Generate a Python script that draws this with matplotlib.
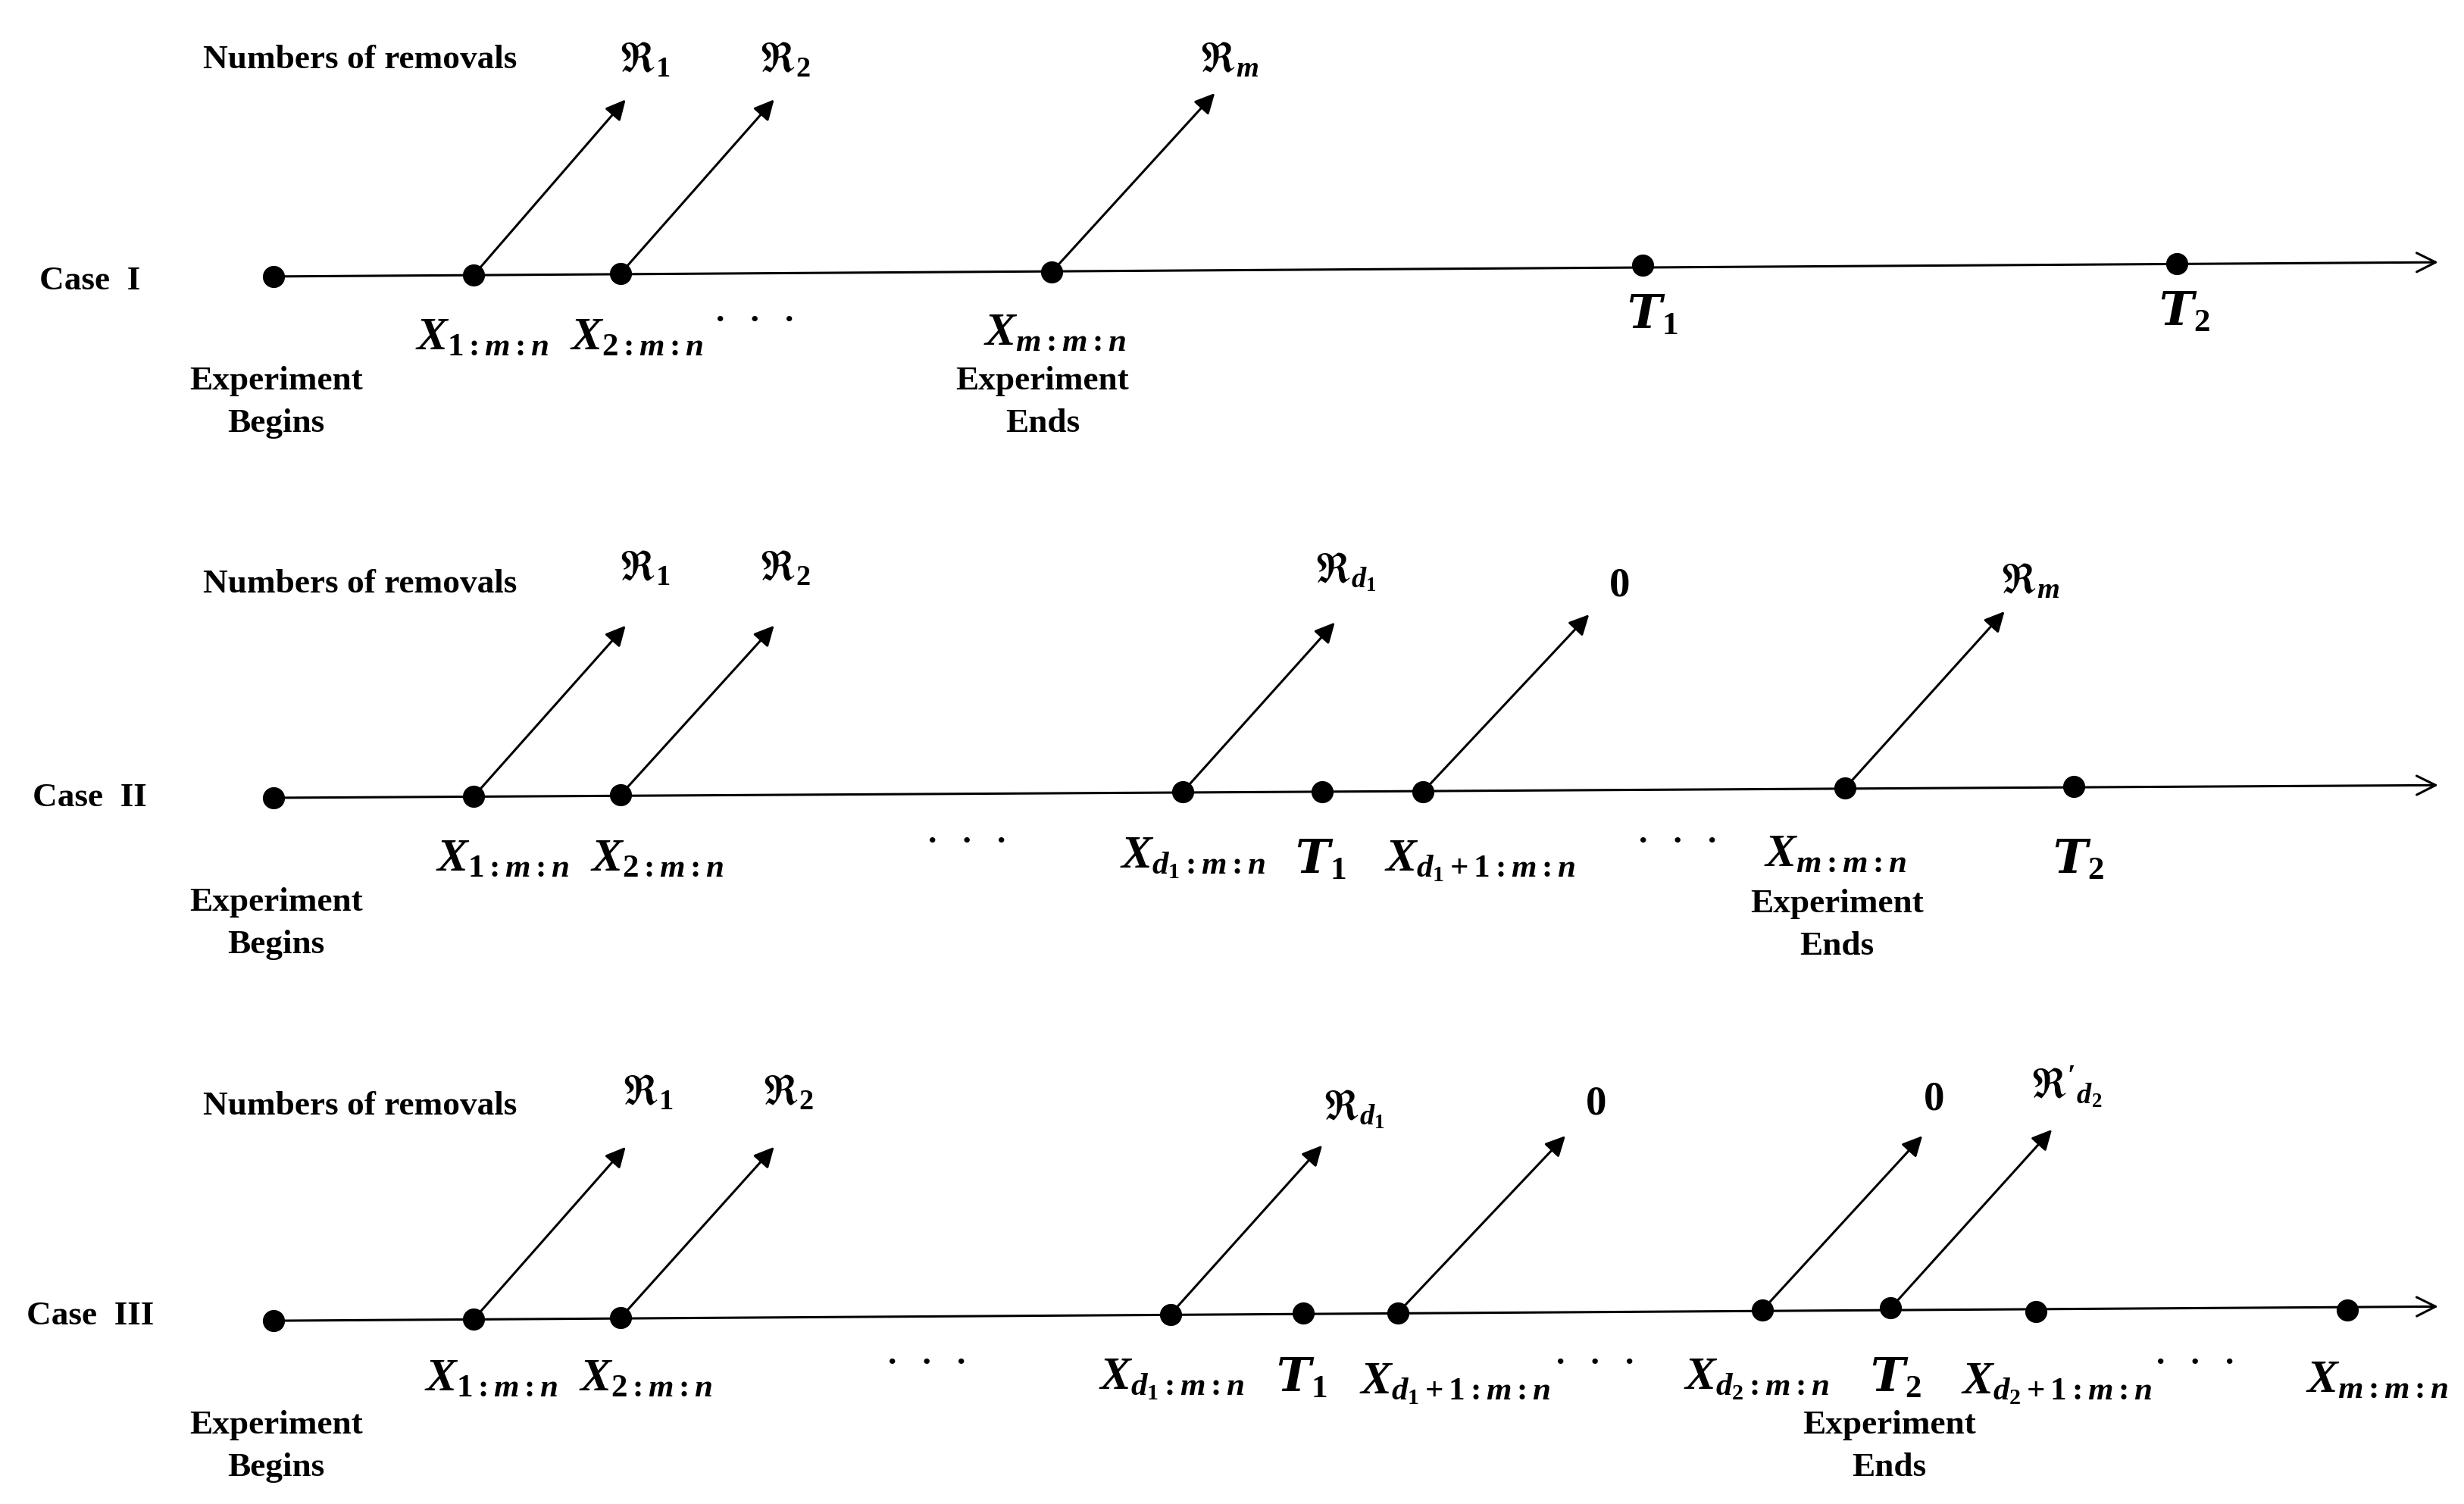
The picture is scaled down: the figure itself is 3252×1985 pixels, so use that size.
import matplotlib
matplotlib.use("Agg")
import matplotlib.pyplot as plt

plt.rcParams['mathtext.fontset'] = 'custom'
plt.rcParams['mathtext.it'] = 'Liberation Serif:bold:italic'
plt.rcParams['mathtext.rm'] = 'Liberation Serif:bold'
plt.rcParams['mathtext.bf'] = 'Liberation Serif:bold'
plt.rcParams['mathtext.cal'] = 'DejaVu Serif:bold:italic'
plt.rcParams['mathtext.fallback'] = 'stix'

S = 1.5 * 1.55  # font pt per reference pixel

# ---- data (reference pixel coordinates of displayed image) ----
case_names = ["Case  I", "Case  II", "Case  III"]
case_label_y = [178, 505, 833]
line_start = [(173, 175), (173, 505), (173, 836)]
line_end = [(1545, 166), (1545, 497), (1545, 827)]
points = [
    [(173, 175), (300, 174), (393, 173), (666, 172), (1040, 168), (1378, 167)],
    [(173, 505), (300, 504), (393, 503), (749, 501), (837, 501), (901, 501), (1168, 499), (1313, 498)],
    [(173, 836), (300, 835), (393, 834), (741, 832), (825, 831), (885, 831), (1116, 829), (1197, 828), (1289, 830), (1486, 829)],
]
arrows = [
    [((300, 174), (397, 62)), ((393, 173), (491, 62)), ((666, 172), (770, 58))],
    [((300, 504), (397, 395)), ((393, 503), (491, 395)), ((749, 501), (846, 393)), ((901, 501), (1007, 388)), ((1168, 499), (1270, 386))],
    [((300, 835), (397, 725)), ((393, 834), (491, 725)), ((741, 832), (838, 724)), ((885, 831), (992, 718)), ((1116, 829), (1218, 718)), ((1197, 828), (1300, 714))],
]
removal_labels = [
    [(408, 38, r'$\Re_1$'), (497, 38, r'$\Re_2$'), (778, 38, r'$\Re_m$')],
    [(408, 360, r'$\Re_1$'), (497, 360, r'$\Re_2$'), (852, 362, r'$\Re_{d_1}$'), (1025, 370, r'$0$'), (1285, 368, r'$\Re_m$')],
    [(410, 692, r'$\Re_1$'), (499, 692, r'$\Re_2$'), (857, 702, r'$\Re_{d_1}$'), (1010, 698, r'$0$'), (1224, 695, r'$0$'), (1308, 688, r"$\Re'_{d_2}$")],
]
header_y = [38, 370, 700]
time_labels = [
    [(305, 213, r'$X_{1:m:n}$'), (403, 213, r'$X_{2:m:n}$'), (668, 210, r'$X_{m:m:n}$'),
     (1046, 200, r'$\mathcal{T}_1$'), (1383, 198, r'$\mathcal{T}_2$')],
    [(318, 543, r'$X_{1:m:n}$'), (416, 543, r'$X_{2:m:n}$'), (755, 543, r'$X_{d_1:m:n}$'),
     (836, 545, r'$\mathcal{T}_1$'), (937, 545, r'$X_{d_1+1:m:n}$'), (1162, 540, r'$X_{m:m:n}$'),
     (1316, 545, r'$\mathcal{T}_2$')],
    [(311, 872, r'$X_{1:m:n}$'), (409, 872, r'$X_{2:m:n}$'), (742, 873, r'$X_{d_1:m:n}$'),
     (824, 873, r'$\mathcal{T}_1$'), (921, 876, r'$X_{d_1+1:m:n}$'), (1112, 873, r'$X_{d_2:m:n}$'),
     (1200, 873, r'$\mathcal{T}_2$'), (1302, 876, r'$X_{d_2+1:m:n}$'), (1505, 873, r'$X_{m:m:n}$')],
]
dots_pos = [[(478, 198)], [(612, 528), (1062, 528)], [(587, 858), (1010, 858), (1390, 858)]]
begins = [(175, 241), (175, 571), (175, 902)]
ends = [(660, 241), (1163, 572), (1196, 902)]

fig = plt.figure(figsize=(32.52, 19.85), dpi=100)
ax = fig.add_axes([0, 0, 1, 1])
ax.set_xlim(0, 1560)
ax.set_ylim(952, 0)
ax.axis('off')

tf = dict(family='Liberation Serif', fontweight='bold')
for i in range(3):
    ax.text(57, case_label_y[i], case_names[i], fontsize=14 * S, ha='center', va='center', **tf)
    ax.text(228, header_y[i], "Numbers of removals", fontsize=14 * S, ha='center', va='center', **tf)
    ax.annotate('', xy=line_end[i], xytext=line_start[i],
                arrowprops=dict(arrowstyle='->', lw=2.2, color='black', mutation_scale=45))
    xs = [p[0] for p in points[i]]; ys = [p[1] for p in points[i]]
    ax.plot(xs, ys, 'o', color='black', ms=20, zorder=5)
    for a, b in arrows[i]:
        ax.annotate('', xy=b, xytext=a,
                    arrowprops=dict(arrowstyle='-|>', lw=2.2, color='black', mutation_scale=40))
    for x, y, s in removal_labels[i]:
        ax.text(x, y, s, fontsize=17 * S, ha='center', va='center')
    for x, y, s in time_labels[i]:
        ax.text(x, y, s, fontsize=19 * S, ha='center', va='center')
    for x, y in dots_pos[i]:
        ax.text(x, y, '.   .   .', fontsize=14 * S, ha='center', va='center', **tf)
    bx, by = begins[i]
    ax.text(bx, by, "Experiment", fontsize=14 * S, ha='center', va='center', **tf)
    ax.text(bx, by + 27, "Begins", fontsize=14 * S, ha='center', va='center', **tf)
    ex, ey = ends[i]
    ax.text(ex, ey, "Experiment", fontsize=14 * S, ha='center', va='center', **tf)
    ax.text(ex, ey + 27, "Ends", fontsize=14 * S, ha='center', va='center', **tf)

fig.savefig("out.png", dpi=100, facecolor='white')
